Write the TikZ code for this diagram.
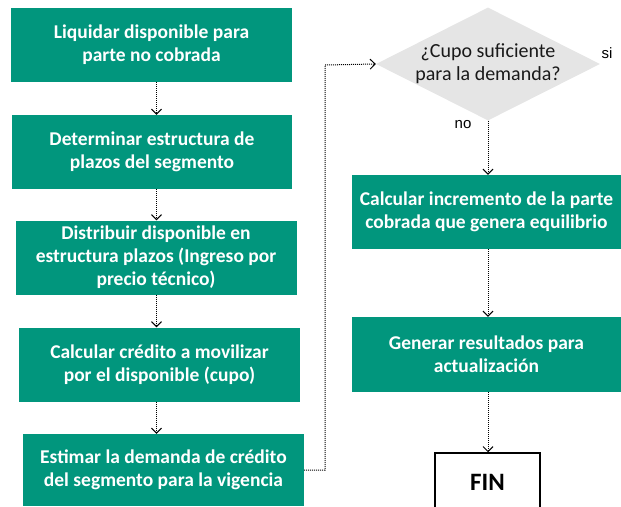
\documentclass[tikz,border=0pt]{standalone}
\usepackage{fontspec}
\setmainfont{Carlito}
\newfontfamily\arialfont{Liberation Sans}
\usetikzlibrary{shapes.geometric,arrows.meta}

\begin{document}
\begin{tikzpicture}[x=1pt,y=-1pt,
    caja/.style={fill=verde, text=white, font=\bfseries\fontsize{19.5}{23}\selectfont,
        align=center, inner sep=0pt, minimum width=#1, minimum height=74pt},
    flecha/.style={line width=1pt, dash pattern=on 1pt off 1pt,
        -{Straight Barb[length=5pt,width=10pt,line width=1pt]}}]
    %colores
    \definecolor{verde}{RGB}{1,150,125}
    \colorlet{gris}{black!10}

    % marco
    \useasboundingbox (0,0) rectangle (621,506);

    % Columna izquierda
    \node[caja=281pt] (liquidar) at (151.5,45) {Liquidar disponible para\\parte no cobrada};
    \node[caja=280pt] (plazos) at (152,152) {Determinar estructura de\\plazos del segmento};
    \node[caja=281pt] (distribuir) at (156,257.5) {Distribuir disponible en\\estructura plazos (Ingreso por\\precio técnico)};
    \node[caja=281pt] (cupo) at (159.5,364.5) {Calcular crédito a movilizar\\por el disponible (cupo)};
    \node[caja=281pt, minimum height=72pt] (demanda) at (163.5,470) {Estimar la demanda de crédito\\del segmento para la vigencia};

    % Decision
    \node[diamond, fill=gris, inner sep=0pt, minimum width=224pt, minimum height=113pt] (decision) at (488,64) {};
    \node[align=center, font=\fontsize{20}{23}\selectfont, text=black!90] (pregunta) at (decision.center) {¿Cupo suficiente\\para la demanda?};
    \node[font=\arialfont\fontsize{15}{18}\selectfont] (si) at (607,53) {si};
    \node[font=\arialfont\fontsize{15}{18}\selectfont] (no) at (463,125) {no};

    % Columna derecha
    \node[caja=269pt] (incremento) at (486.5,212) {Calcular incremento de la parte\\cobrada que genera equilibrio};
    \node[caja=269pt, minimum height=75pt] (resultados) at (486.5,354.5) {Generar resultados para\\actualización};
    \node[draw=black, line width=1.5pt, fill=white, minimum width=105pt, minimum height=58pt,
        font=\bfseries\fontsize{25}{28}\selectfont] (fin) at (487.5,482) {FIN};

    % Flechas
    \coordinate (codo) at (325,65);
    \foreach \a/\b in {liquidar/plazos,plazos/distribuir,distribuir/cupo,cupo/demanda}
        \draw[flecha] (\a.south -| 156.5,0) -- (\b.north -| 156.5,0);
    \draw[flecha] (demanda.east) -| (codo) -- (decision.west);
    \draw[flecha] (decision.south) -- (incremento.north -| decision.south);
    \draw[flecha] (incremento.south -| decision.south) -- (resultados.north -| decision.south);
    \draw[flecha] (resultados.south -| decision.south) -- (fin.north -| decision.south);
\end{tikzpicture}
\end{document}
